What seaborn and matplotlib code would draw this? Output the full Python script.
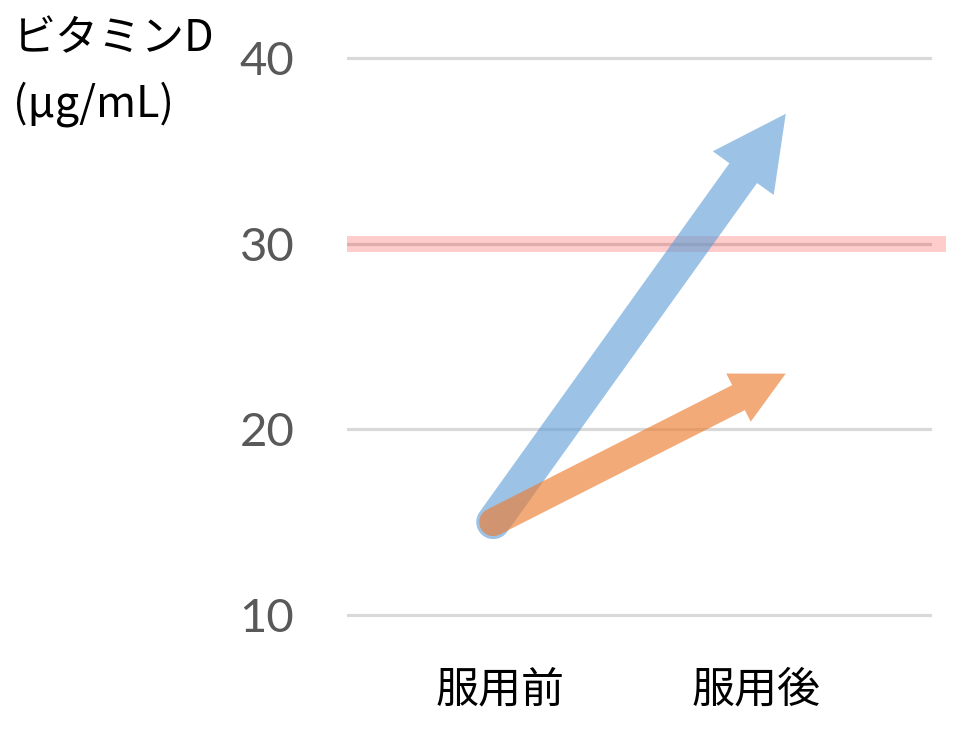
import numpy as np
import pandas as pd
import matplotlib
matplotlib.use("Agg")
import matplotlib.pyplot as plt
from matplotlib.patches import Polygon
from matplotlib.transforms import IdentityTransform
import seaborn as sns

# ---- data ----
categories = ["服用前", "服用後"]
series_names = ["blue", "orange"]
before_values = [15, 15]
after_values = [37, 23]
series_colors = ["#5B9BD5", "#ED7D31"]
series_alpha = [0.6, 0.65]
yticks = [10, 20, 30, 40]
target_line = 30
ylabel_lines = ["ビタミンD", "(μg/mL)"]

sns.set_theme(style="white")
plt.rcParams["font.family"] = ["Lato", "Noto Sans CJK JP", "DejaVu Sans"]

W, H = 979, 745
fig = plt.figure(figsize=(W / 100, H / 100), dpi=100)
ax_left, ax_right = 347, 932
ax_top, ax_bottom = 21, 652
ax = fig.add_axes([ax_left / W, 1 - ax_bottom / H, (ax_right - ax_left) / W, (ax_bottom - ax_top) / H])

df = pd.DataFrame({
    "x": [0, 1, 0, 1],
    "y": [before_values[0], after_values[0], before_values[1], after_values[1]],
    "s": [series_names[0]] * 2 + [series_names[1]] * 2,
})
sns.lineplot(data=df, x="x", y="y", hue="s", ax=ax, linewidth=0, legend=False)

ax.set_xlim(-0.5, 1.5)
ax.set_ylim(8, 42)
for s in ax.spines.values():
    s.set_visible(False)
ax.set_yticks(yticks)
ax.set_yticklabels([str(v) for v in yticks], fontsize=34, color="#595959")
ax.tick_params(axis="y", length=0, pad=38)
ax.grid(axis="y", color="#D9D9D9", linewidth=2.3)
ax.grid(axis="x", visible=False)
ax.set_xlabel("")
ax.set_ylabel("")

# category labels
label_pos = [0.022, 0.899]
ax.set_xticks(label_pos)
ax.set_xticklabels(categories, fontsize=31, color="#000000",
                   family=["Noto Sans CJK JP", "DejaVu Sans"])
ax.tick_params(axis="x", length=0, pad=12)

# target band at 30
ax.axhline(target_line, xmin=0, xmax=(946 - ax_left) / (ax_right - ax_left),
           color="#FF0000", alpha=0.2, linewidth=11.5, clip_on=False, zorder=1,
           solid_capstyle="butt")

# y-axis title
fig.text(13 / W, 1 - 39 / H, ylabel_lines[0], fontsize=31, color="#000000",
         va="center", ha="left", family=["Noto Sans CJK JP", "DejaVu Sans"])
fig.text(13 / W, 1 - 104 / H, ylabel_lines[1], fontsize=31, color="#000000",
         va="center", ha="left", family=["Noto Sans CJK JP", "DejaVu Sans"])

fig.canvas.draw()


def arrow_poly(p0, p1, sw, hw, hl, nseg=30):
    p0 = np.asarray(p0, float)
    p1 = np.asarray(p1, float)
    d = p1 - p0
    L = np.hypot(*d)
    u = d / L
    n = np.array([-u[1], u[0]])
    hb = p1 - hl * u
    pts = [p1, hb + hw / 2 * n, hb + sw / 2 * n, p0 + sw / 2 * n]
    th = np.arctan2(n[1], n[0])
    for a in np.linspace(th, th + np.pi, nseg)[1:-1]:
        pts.append(p0 + sw / 2 * np.array([np.cos(a), np.sin(a)]))
    pts += [p0 - sw / 2 * n, hb - sw / 2 * n, hb - hw / 2 * n]
    return np.array(pts)


shapes = [(34, 75, 73), (28, 54, 53)]
for i in range(len(series_names)):
    p0 = ax.transData.transform((0, before_values[i]))
    p1 = ax.transData.transform((1, after_values[i]))
    poly = Polygon(arrow_poly(p0, p1, *shapes[i]), closed=True,
                   facecolor=series_colors[i], edgecolor="none",
                   alpha=series_alpha[i], transform=IdentityTransform(),
                   zorder=3 + i)
    fig.patches.append(poly)
    poly.set_figure(fig)

fig.savefig("out.png", dpi=100)
